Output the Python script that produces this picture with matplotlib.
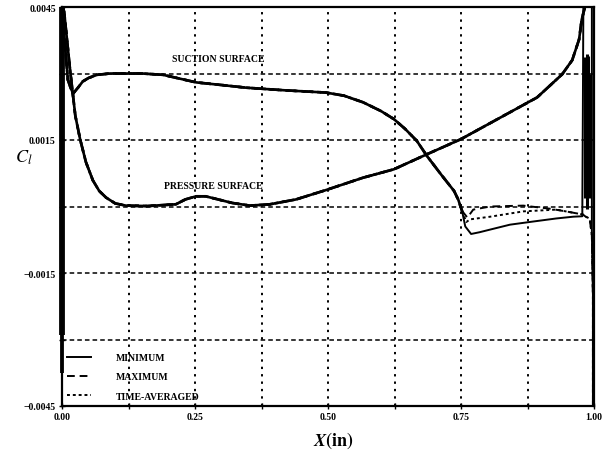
import matplotlib
matplotlib.use("Agg")
import matplotlib.pyplot as plt
import numpy as np

# ---------------- data ----------------
pressure_x = [0.000, 0.004, 0.015, 0.025, 0.034, 0.045, 0.058, 0.070, 0.083, 0.100, 0.120,
              0.160, 0.214, 0.232, 0.252, 0.270, 0.290, 0.320, 0.353, 0.391, 0.440, 0.496,
              0.566, 0.624, 0.677, 0.750, 0.820, 0.893, 0.940, 0.959, 0.972, 0.977, 0.983]
pressure_cf = [0.00450, 0.00440, 0.00310, 0.00205, 0.00152, 0.00100, 0.00059, 0.00035, 0.00020,
               0.00007, 0.00002, 0.00001, 0.00005, 0.00016, 0.00023, 0.00023, 0.00017, 0.00008,
               0.00002, 0.00005, 0.00016, 0.00037, 0.00065, 0.00084, 0.00113, 0.00152, 0.00198,
               0.00246, 0.00298, 0.00330, 0.00377, 0.00422, 0.00450]

suction_x = [0.000, 0.006, 0.011, 0.016, 0.021, 0.030, 0.039, 0.050, 0.066, 0.090, 0.150,
             0.190, 0.252, 0.300, 0.346, 0.420, 0.496, 0.530, 0.566, 0.600, 0.624, 0.645,
             0.667, 0.686, 0.712, 0.737, 0.745, 0.752]
suction_cf = [0.00450, 0.00360, 0.00286, 0.00268, 0.00255, 0.00268, 0.00282, 0.00290, 0.00297,
              0.00300, 0.00300, 0.00297, 0.00280, 0.00274, 0.00268, 0.00262, 0.00257, 0.00250,
              0.00235, 0.00215, 0.00197, 0.00175, 0.00148, 0.00114, 0.00073, 0.00035, 0.00015,
              -0.00010]

te_min_x = [0.752, 0.758, 0.769, 0.785, 0.805, 0.842, 0.885, 0.929, 0.961, 0.978, 0.979, 0.980,
            0.996, 0.996, 0.996, 0.998, 0.998]
te_min = [-0.00010, -0.00045, -0.00062, -0.00058, -0.00052, -0.00041, -0.00034, -0.00027,
          -0.00023, -0.00022, 0.00200, 0.00455, 0.00455, -0.00012, -0.00060, -0.00200, -0.00460]

te_max_x = [0.752, 0.762, 0.773, 0.805, 0.867, 0.917, 0.947, 0.979, 0.992, 0.996, 0.998, 0.998]
te_max = [-0.00010, -0.00025, -0.00007, 0.00000, 0.00002, -0.00005, -0.00011, -0.00018,
          -0.00030, -0.00065, -0.00200, -0.00460]

te_avg_x = [0.752, 0.760, 0.767, 0.805, 0.867, 0.929, 0.947, 0.979, 0.992, 0.996, 0.998, 0.998]
te_avg = [-0.00010, -0.00035, -0.00029, -0.00023, -0.00011, -0.00007, -0.00011, -0.00018,
          -0.00028, -0.00065, -0.00200, -0.00460]

le_band_x = [-0.004, -0.002, 0.000, 0.002, 0.004]
le_band_low = [-0.00290, -0.00376, -0.00376, -0.00376, -0.00290]
le_band_high = [0.00450, 0.00450, 0.00450, 0.00450, 0.00450]

te_band_x = [0.984, 0.986, 0.988, 0.990]
te_band_low = [0.00020, -0.00005, 0.00130, 0.00020]
te_band_high = [0.00337, 0.00345, 0.00340, 0.00300]

x_ticks = [0.0, 0.125, 0.25, 0.375, 0.5, 0.625, 0.75, 0.875, 1.0]
x_tick_labels = ["0.00", "", "0.25", "", "0.50", "", "0.75", "", "1.00"]
y_ticks = [-0.0045, -0.0030, -0.0015, 0.0, 0.0015, 0.0030, 0.0045]
y_tick_labels = ["\u22120.0045", "", "\u22120.0015", "", "0.0015", "", "0.0045"]

legend_labels = ["MINIMUM", "MAXIMUM", "TIME-AVERAGED"]

# ---------------- figure ----------------
serif = ["Liberation Serif", "DejaVu Serif"]
plt.rcParams["mathtext.fontset"] = "stix"

fig = plt.figure(figsize=(6.16, 4.60), dpi=100)
ax = fig.add_axes([62 / 616, 53 / 460, 532 / 616, 399 / 460])

lw = 1.9
styles = ["-", (0, (4, 2.5)), (0, (1.5, 1.5))]

# common parts (all three statistics coincide)
for ls in styles:
    ax.plot(pressure_x, pressure_cf, color="black", lw=lw, ls=ls)
    ax.plot(suction_x, suction_cf, color="black", lw=lw, ls=ls)

ax.plot(te_min_x, te_min, color="black", lw=1.4, ls=styles[0], label=legend_labels[0])
ax.plot(te_max_x, te_max, color="black", lw=1.4, ls=styles[1], label=legend_labels[1])
ax.plot(te_avg_x, te_avg, color="black", lw=1.4, ls=styles[2], label=legend_labels[2])

ax.vlines(le_band_x, le_band_low, le_band_high, color="black", lw=1.3, clip_on=False)
ax.vlines(te_band_x, te_band_low, te_band_high, color="black", lw=2.2)

ax.set_xlim(0.0, 1.0)
ax.set_ylim(-0.0045, 0.0045)

ax.set_xticks(x_ticks)
ax.set_xticklabels(x_tick_labels)
ax.set_yticks(y_ticks)
ax.set_yticklabels(y_tick_labels)
for lab in ax.get_xticklabels() + ax.get_yticklabels():
    lab.set_family(serif)
    lab.set_fontweight("bold")
    lab.set_fontsize(7)
ax.tick_params(axis="both", direction="inout", length=5, width=1.0, pad=2)

ax.grid(False)
for y in y_ticks[1:-1]:
    ax.axhline(y, color="black", lw=1.1, ls=(0, (3, 2)), zorder=0)
for x in x_ticks[1:-1]:
    ax.axvline(x, color="black", lw=1.4, ls=(0, (1.2, 2.6)), zorder=0)

for s in ax.spines.values():
    s.set_linewidth(1.6)

ax.text(0.293, 0.00333, "SUCTION SURFACE", family=serif, fontweight="bold", fontsize=7,
        ha="center", va="center")
ax.text(0.284, 0.00048, "PRESSURE SURFACE", family=serif, fontweight="bold", fontsize=7,
        ha="center", va="center")

leg = ax.legend(loc="lower left", frameon=False, handlelength=2.4, handletextpad=2.6,
                labelspacing=1.05, borderaxespad=0.15,
                prop={"family": serif, "weight": "bold", "size": 7})

fig.text(24 / 616, 1 - 158 / 460, r"$C_{\mathit{l}}$", fontsize=13, ha="center", va="center")
fig.text(333 / 616, 1 - 441 / 460, r"$\mathbfit{X}\mathbf{(in)}$", fontsize=13, ha="center", va="center")

fig.savefig("out.png", dpi=100)
